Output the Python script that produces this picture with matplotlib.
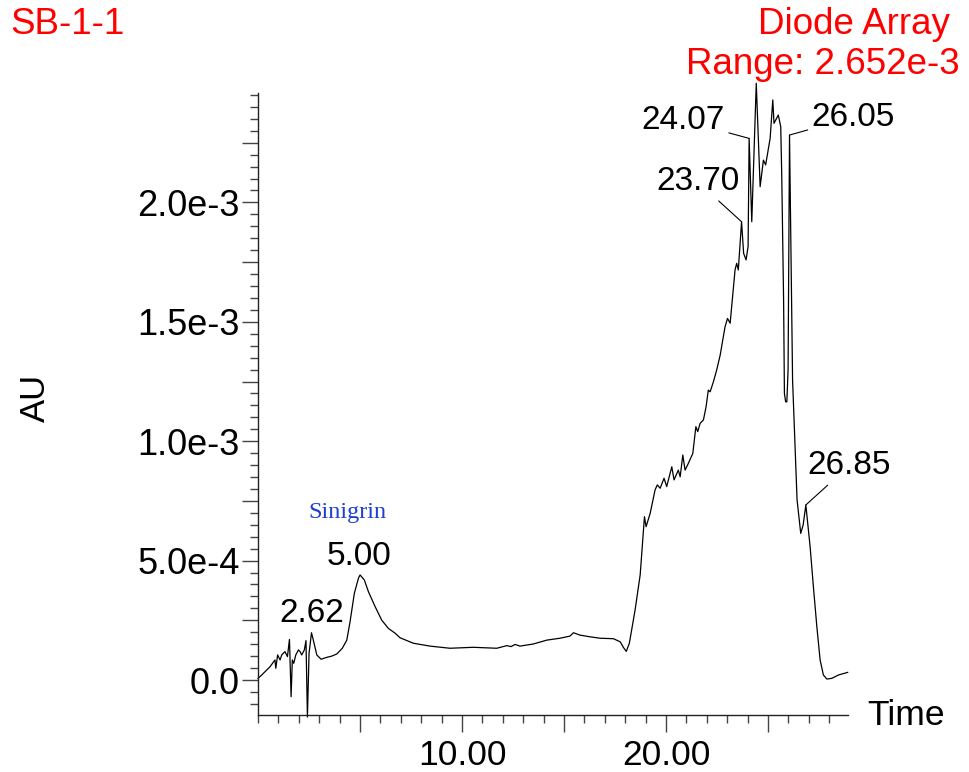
import numpy as np
import matplotlib
matplotlib.use("Agg")
import matplotlib.pyplot as plt
from matplotlib.ticker import FixedLocator, MultipleLocator

# chromatogram trace (time in min, absorbance in 1e-4 AU)
time_min = [0.00, 0.18, 0.59, 0.83, 0.87, 0.96, 1.08, 1.16, 1.32, 1.44,
            1.54, 1.62, 1.68, 1.75, 1.85, 1.98, 2.06, 2.14, 2.27, 2.35,
            2.42, 2.50, 2.62, 2.71, 2.88, 3.09, 3.37, 3.61, 3.86, 4.13,
            4.35, 4.51, 4.72, 4.92, 5.00, 5.21, 5.41, 5.74, 6.06, 6.39,
            6.72, 6.96, 7.61, 8.43, 9.41, 10.55, 11.70, 12.19, 12.40, 12.60,
            12.84, 13.50, 14.15, 14.80, 15.29, 15.46, 15.78, 16.27, 16.76, 17.42,
            17.75, 17.92, 18.05, 18.20, 18.48, 18.73, 18.94, 19.02, 19.22, 19.46,
            19.57, 19.71, 19.90, 20.03, 20.28, 20.39, 20.60, 20.69, 20.82, 20.93,
            21.09, 21.31, 21.46, 21.55, 21.67, 21.83, 21.96, 22.07, 22.16, 22.32,
            22.48, 22.65, 22.89, 23.01, 23.14, 23.38, 23.46, 23.54, 23.70, 23.80,
            23.92, 24.02, 24.07, 24.20, 24.42, 24.61, 24.77, 24.88, 25.10, 25.23,
            25.29, 25.50, 25.62, 25.67, 25.76, 25.80, 25.86, 25.92, 25.98, 26.05,
            26.12, 26.20, 26.32, 26.42, 26.60, 26.72, 26.85, 27.06, 27.22, 27.39,
            27.55, 27.71, 27.88, 28.12, 28.45, 28.90]
au_e4 = [0.07, 0.21, 0.56, 0.84, 0.49, 1.05, 0.84, 1.05, 1.19, 0.98,
         1.70, -0.70, 0.84, 0.70, 1.05, 1.26, 1.19, 1.05, 1.26, 1.65,
         -1.55, 1.12, 1.98, 1.67, 1.05, 0.87, 0.95, 1.00, 1.09, 1.33,
         1.67, 2.44, 3.63, 4.26, 4.40, 4.19, 3.70, 3.07, 2.51, 2.16,
         1.96, 1.77, 1.54, 1.42, 1.33, 1.37, 1.33, 1.44, 1.40, 1.49,
         1.42, 1.51, 1.67, 1.75, 1.84, 1.98, 1.88, 1.81, 1.75, 1.73,
         1.60, 1.35, 1.20, 1.54, 2.93, 4.40, 6.84, 6.42, 6.98, 7.96,
         8.17, 8.03, 8.45, 8.10, 8.93, 8.38, 8.79, 8.51, 9.42, 8.79,
         9.07, 9.49, 10.61, 10.40, 10.75, 10.89, 11.44, 12.14, 12.07, 12.49,
         12.98, 13.60, 14.79, 15.14, 14.94, 17.17, 17.45, 17.17, 19.19, 17.87,
         17.59, 18.15, 22.68, 19.19, 24.99, 20.66, 21.77, 21.57, 22.68, 24.29,
         23.31, 23.66, 23.17, 21.08, 15.90, 12.00, 11.65, 11.65, 13.00, 22.82,
         18.00, 12.56, 9.77, 7.54, 6.14, 6.50, 7.33, 5.58, 3.91, 2.23,
         0.84, 0.21, 0.04, 0.07, 0.21, 0.32]

peak_times = [2.62, 5.00, 23.70, 24.07, 26.05, 26.85]
peak_labels = ["2.62", "5.00", "23.70", "24.07", "26.05", "26.85"]

y_ticks_labeled = [0.0, 5.0e-4, 1.0e-3, 1.5e-3, 2.0e-3]
y_tick_labels = ["0.0", "5.0e-4", "1.0e-3", "1.5e-3", "2.0e-3"]
x_ticks_labeled = [10.0, 20.0]
x_tick_labels = ["10.00", "20.00"]

t = np.array(time_min)
y = np.array(au_e4) * 1e-4

plt.rcParams['font.family'] = ['Liberation Sans', 'DejaVu Sans']

fig = plt.figure(figsize=(9.69, 7.72), dpi=100)
ax = fig.add_axes([0.2663, 0.0738, 0.6089, 0.8057])

ax.plot(t, y, color='black', lw=0.9, clip_on=False)

ax.set_xlim(0, 28.92)
ax.set_ylim(-1.466e-4, 2.458e-3)

for s in ['top', 'right']:
    ax.spines[s].set_visible(False)
for s in ['left', 'bottom']:
    ax.spines[s].set_color('#222222')
    ax.spines[s].set_linewidth(1.0)

# x ticks: long every 5 min, labels at 10 and 20 only
ax.xaxis.set_minor_locator(MultipleLocator(1))
ax.xaxis.set_major_locator(FixedLocator([5, 10, 15, 20, 25]))
ax.set_xticklabels(["" if v not in x_ticks_labeled else x_tick_labels[x_ticks_labeled.index(v)]
                    for v in [5, 10, 15, 20, 25]])
ax.tick_params(axis='x', which='major', length=12, width=1, color='#444444',
               labelsize=25.5, pad=5)
ax.tick_params(axis='x', which='minor', length=6, width=1, color='#444444')

# y ticks: long every 2.5e-4, labels every 5e-4
y_major = np.arange(0, 2.3e-3, 2.5e-4)
ax.yaxis.set_major_locator(FixedLocator(y_major))
ax.yaxis.set_minor_locator(FixedLocator(np.arange(-1.5e-4, 2.46e-3, 5e-5)))
lab = []
for v in y_major:
    match = [l for tk, l in zip(y_ticks_labeled, y_tick_labels) if abs(tk - v) < 1e-9]
    lab.append(match[0] if match else "")
ax.set_yticklabels(lab)
ax.tick_params(axis='y', which='major', length=11.5, width=1, color='#444444',
               labelsize=26, pad=1.5)
ax.tick_params(axis='y', which='minor', length=5.5, width=1, color='#444444')

ax.text(-0.377, 0.51, "AU", transform=ax.transAxes, rotation=90, fontsize=25,
        ha='center', va='center')
ax.text(1.098, 0.0, "Time", transform=ax.transAxes, fontsize=25.5,
        ha='center', va='center')

# peak annotations, offsets in pixels from the apex
offsets = {"2.62": (0, 19), "5.00": (-1, 18), "23.70": (-44, 40),
           "24.07": (-66, 18), "26.05": (64, 18), "26.85": (43, 39)}
leader = {"23.70", "24.07", "26.05", "26.85"}
for pt, lbl in zip(peak_times, peak_labels):
    near = np.abs(t - pt) < 0.08
    i = np.where(near)[0][np.argmax(y[near])]
    kw = {}
    if lbl in leader:
        kw['arrowprops'] = dict(arrowstyle='-', color='black', lw=0.8,
                                shrinkA=1, shrinkB=0)
    ax.annotate(lbl, xy=(t[i], y[i]), xytext=offsets[lbl],
                textcoords='offset pixels', ha='center', va='center',
                fontsize=24, annotation_clip=False, **kw)

i5 = int(np.argmin(np.abs(t - 5.00)))
ax.annotate("Sinigrin", xy=(t[i5], y[i5]), xytext=(-13, 62),
            textcoords='offset pixels', ha='center', va='center',
            fontsize=17.5, color='#1f3fcf', family='Liberation Serif')

fig.text(67 / 969, 1 - 25 / 772, "SB-1-1", color='red', fontsize=26.5,
         ha='center', va='center')
fig.text(950 / 969, 1 - 25 / 772, "Diode Array", color='red', fontsize=26.5,
         ha='right', va='center')
fig.text(960 / 969, 1 - 64 / 772, "Range: 2.652e-3", color='red', fontsize=26.5,
         ha='right', va='center')

fig.savefig("out.png", dpi=100)
